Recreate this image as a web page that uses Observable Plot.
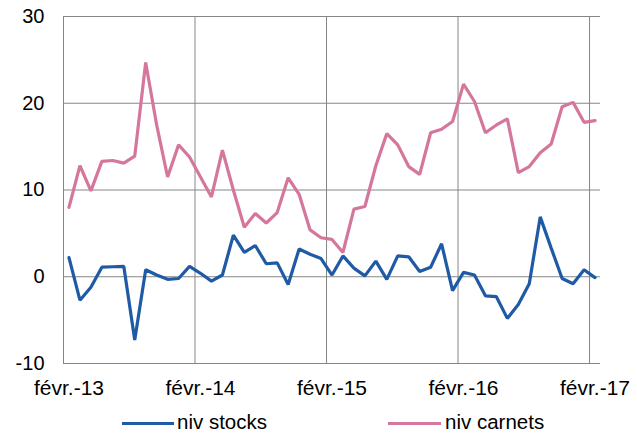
<!DOCTYPE html>
<html>
<head>
<meta charset="utf-8">
<script src="https://cdn.jsdelivr.net/npm/d3@7"></script>
<script src="https://cdn.jsdelivr.net/npm/@observablehq/plot@0.6"></script>
<style>
  body { margin: 0; background: #fff; font-family: "Liberation Sans", Arial, sans-serif; }
  #wrap { position: relative; width: 637px; height: 435px; }
  #legend { position: absolute; left: 0; top: 400px; width: 637px; height: 35px; font-size: 20.5px; color: #000; }
  .sw { position: absolute; top: 22px; height: 3px; }
  .lt { position: absolute; top: 10px; line-height: 24px; white-space: nowrap; }
</style>
</head>
<body>
<div id="wrap"><div id="chart"></div>
<div id="legend">
  <div class="sw" style="left:122px;width:52px;background:#1f5aa6"></div>
  <div class="lt" style="left:177px">niv stocks</div>
  <div class="sw" style="left:388px;width:53px;background:#d5769c"></div>
  <div class="lt" style="left:445px">niv carnets</div>
</div>
</div>
<script>
const monthNames = ["janv.", "févr.", "mars", "avr.", "mai", "juin", "juil.", "août", "sept.", "oct.", "nov.", "déc."];
// 49 monthly categories: févr.-13 … févr.-17
const months = [];
for (let k = 0; k < 49; k++) {
  const m = (1 + k) % 12, y = 13 + Math.floor((1 + k) / 12);
  months.push(monthNames[m] + "-" + y);
}
const nivStocks = [2.2, -2.7, -1.2, 1.1, 1.15, 1.2, -7.3, 0.8, 0.2, -0.3, -0.2, 1.2,
  0.4, -0.5, 0.2, 4.8, 2.8, 3.6, 1.5, 1.6, -0.9, 3.2, 2.6, 2.1,
  0.2, 2.4, 1.0, 0.1, 1.8, -0.3, 2.4, 2.3, 0.6, 1.1, 3.8, -1.6,
  0.5, 0.2, -2.2, -2.3, -4.8, -3.2, -0.8, 6.9, 3.3, -0.2, -0.8, 0.8,
  -0.1];
const nivCarnets = [8.0, 12.8, 9.9, 13.3, 13.4, 13.1, 13.9, 24.7, 17.5, 11.5, 15.2, 13.8,
  11.5, 9.2, 14.6, 10.0, 5.7, 7.3, 6.2, 7.4, 11.4, 9.5, 5.4, 4.5,
  4.3, 2.8, 7.8, 8.1, 12.8, 16.5, 15.2, 12.7, 11.8, 16.6, 17.0, 17.9,
  22.2, 20.2, 16.6, 17.5, 18.2, 12.0, 12.7, 14.3, 15.3, 19.6, 20.1, 17.8,
  18.0];
const xTickIdx = [0, 12, 24, 36, 48];
const xGridIdx = [-0.5, 11.5, 23.5, 35.5, 47.5];
const yTicks = [-10, 0, 10, 20, 30];

const table = months.map((m, i) => ({i, m, stocks: nivStocks[i], carnets: nivCarnets[i]}));

const chart = Plot.plot({
  width: 637,
  height: 400,
  marginLeft: 63,
  marginRight: 37,
  marginTop: 16,
  marginBottom: 37,
  style: {fontFamily: "'Liberation Sans', Arial, sans-serif", fontSize: "20px", color: "#000", background: "#fff", overflow: "visible"},
  x: {type: "linear", domain: [-0.5, 48.5], label: null},
  y: {domain: [-10, 30], label: null},
  marks: [
    Plot.ruleY(yTicks, {stroke: "#868686", strokeWidth: 1, strokeOpacity: 1}),
    Plot.ruleX(xGridIdx, {stroke: "#868686", strokeWidth: 1, strokeOpacity: 1}),
    Plot.axisY({ticks: yTicks, tickSize: 0, tickPadding: 19, fontSize: 20, label: null, tickFormat: d => String(d)}),
    Plot.axisX({ticks: xTickIdx, tickSize: 0, tickPadding: 17, fontSize: 21, label: null, tickFormat: i => months[i]}),
    Plot.lineY(table, {x: "i", y: "carnets", stroke: "#d5769c", strokeWidth: 3.2, strokeLinejoin: "miter", curve: "linear"}),
    Plot.lineY(table, {x: "i", y: "stocks", stroke: "#1f5aa6", strokeWidth: 3.2, strokeLinejoin: "miter", curve: "linear"})
  ]
});
document.getElementById("chart").appendChild(chart);
</script>
</body>
</html>
